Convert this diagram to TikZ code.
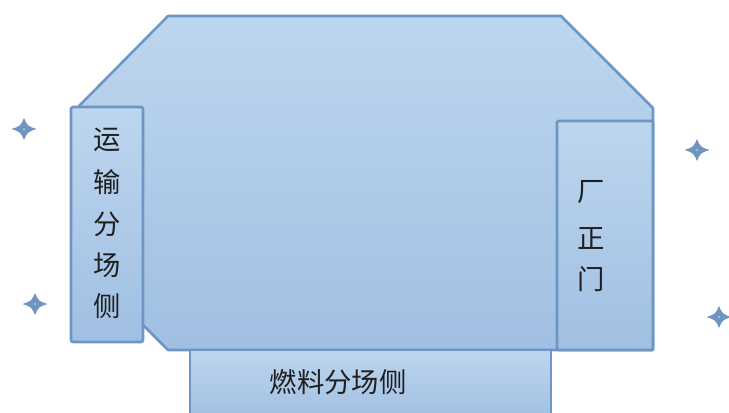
\documentclass[tikz,border=0pt]{standalone}
\usepackage{fontspec}
\newfontfamily\cjk{Noto Sans CJK SC}
\definecolor{edgeblue}{HTML}{6D96C2}
\definecolor{topblue}{HTML}{BDD6EF}
\definecolor{botblue}{HTML}{A0BFE2}
\definecolor{starblue}{HTML}{6F94C0}
\tikzset{
  blockshape/.style={draw=edgeblue, line width=1.9pt, line join=round, top color=topblue, bottom color=botblue},
  label/.style={font=\cjk\fontsize{20.5}{24}\selectfont, text=black!88, inner sep=0pt},
  starshape/.style={fill=starblue, draw=none}
}
\newcommand{\sparkle}[2]{%
  \fill[starshape] (#1-12.5,#2) .. controls (#1-3.5,#2-3) .. (#1,#2-11)
     .. controls (#1+3.5,#2-3) .. (#1+12.5,#2)
     .. controls (#1+3.5,#2+3) .. (#1,#2+11)
     .. controls (#1-3.5,#2+3) .. (#1-12.5,#2) -- cycle;
  \fill[white!70!starblue] (#1,#2) circle (0.9);
}
\begin{document}
\begin{tikzpicture}[x=0.75pt,y=-0.75pt]
\useasboundingbox (0,0) rectangle (729,412);
\clip (0,0) rectangle (729,412);
% main hall outline
\path[blockshape] (168,16) -- (561,16) -- (653,108) -- (653,350) -- (168,350) -- (79,261) -- (79,106) -- cycle;
% bottom box (fuel side)
\path[top color=topblue, bottom color=botblue] (190,350) rectangle (551,420);
\draw[edgeblue, line width=1.9pt, line join=round] (190,420) -- (190,350) -- (551,350) -- (551,420);
% left box (transport side)
\path[blockshape, rounded corners=1.5pt] (71,107) rectangle (143,342);
% right box (main gate)
\path[blockshape, rounded corners=1pt] (557,121) rectangle (653,350);
% labels
\node[label] (t1) at (107,140) {运};
\node[label] (t2) at (107,182) {输};
\node[label] (t3) at (107,224) {分};
\node[label] (t4) at (107,265) {场};
\node[label] (t5) at (107,306) {侧};
\node[label] (g1) at (591,192) {厂};
\node[label] (g2) at (591,238) {正};
\node[label] (g3) at (591,279) {门};
\node[label] (fuel) at (338,382) {燃料分场侧};
% sparkles
\sparkle{24}{129}
\sparkle{35}{304}
\sparkle{697}{150}
\sparkle{719}{317}
\end{tikzpicture}
\end{document}
